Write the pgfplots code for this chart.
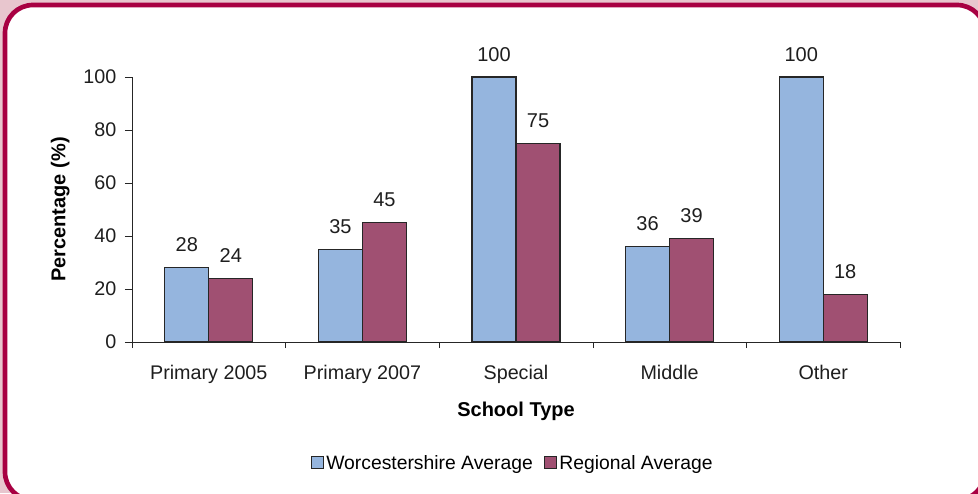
\documentclass[border=0pt]{standalone}
\usepackage{pgfplots}
\pgfplotsset{compat=1.18}
\usepackage{fontspec}
\setmainfont{Liberation Sans}

\definecolor{wblue}{RGB}{149,181,222}
\definecolor{rmaroon}{RGB}{160,80,114}
\definecolor{framecol}{RGB}{168,0,66}
\definecolor{outercol}{RGB}{232,198,206}
\definecolor{txt}{RGB}{30,30,30}

\pgfplotstableread{
x  worc  reg
0  28    24
1  35    45
2  100   75
3  36    39
4  100   18
}\schooldata

\begin{document}
\begin{tikzpicture}[x=0.75pt,y=0.75pt]
% canvas 978 x 493 units
\useasboundingbox (0,0) rectangle (978,493);
\fill[outercol] (0,0) rectangle (978,493);
\begin{scope}
  \clip (0,0) rectangle (978,493);
  \draw[framecol, line width=3.5pt, fill=white, rounded corners=21pt]
    (5,-7) rectangle (985,488);
\end{scope}

\begin{axis}[
  at={(99pt,113.25pt)}, anchor=south west,
  scale only axis, width=576pt, height=198.75pt,
  xmin=-0.5, xmax=4.5, ymin=0, ymax=100,
  ybar=0pt, bar width=33pt,
  axis lines=left, axis line style={-, black!85},
  tick align=outside,
  ytick={0,20,...,100},
  xtick={0,...,4},
  xticklabels={Primary 2005, Primary 2007, Special, Middle, Other},
  minor xtick={-0.5,0.5,...,4.5},
  major x tick style={draw=none},
  minor x tick style={black!85},
  major y tick style={black!85},
  major tick length=5.25pt, minor tick length=4.5pt,
  tick label style={font=\fontsize{14.8}{17}\selectfont, text=txt},
  /pgf/number format/assume math mode=true,
  xticklabel style={yshift=-8.5pt},
  yticklabel style={xshift=-3pt},
  xlabel={School Type}, ylabel={Percentage (\%)},
  label style={font=\bfseries\fontsize{15}{17}\selectfont, text=black},
  xlabel style={yshift=-7pt},
  ylabel style={yshift=3.5pt},
  nodes near coords,
  every node near coord/.append style={font=\fontsize{15}{17}\selectfont, text=txt, yshift=8pt},
  legend style={at={(0.496,-0.457)}, anchor=center, draw=none, fill=none,
    legend columns=-1, font=\fontsize{14.5}{16}\selectfont,
    /tikz/every even column/.append style={column sep=6pt}},
  legend image code/.code={\draw[#1, draw=black!85, line width=0.8pt] (0pt,-4pt) rectangle (9pt,5pt);},
]
\addplot[fill=wblue, draw=black!85, line width=1pt] table[x=x, y=worc] {\schooldata};
\addplot[fill=rmaroon, draw=black!85, line width=1pt] table[x=x, y=reg] {\schooldata};
\legend{Worcestershire Average, Regional Average}
\end{axis}
\end{tikzpicture}
\end{document}
